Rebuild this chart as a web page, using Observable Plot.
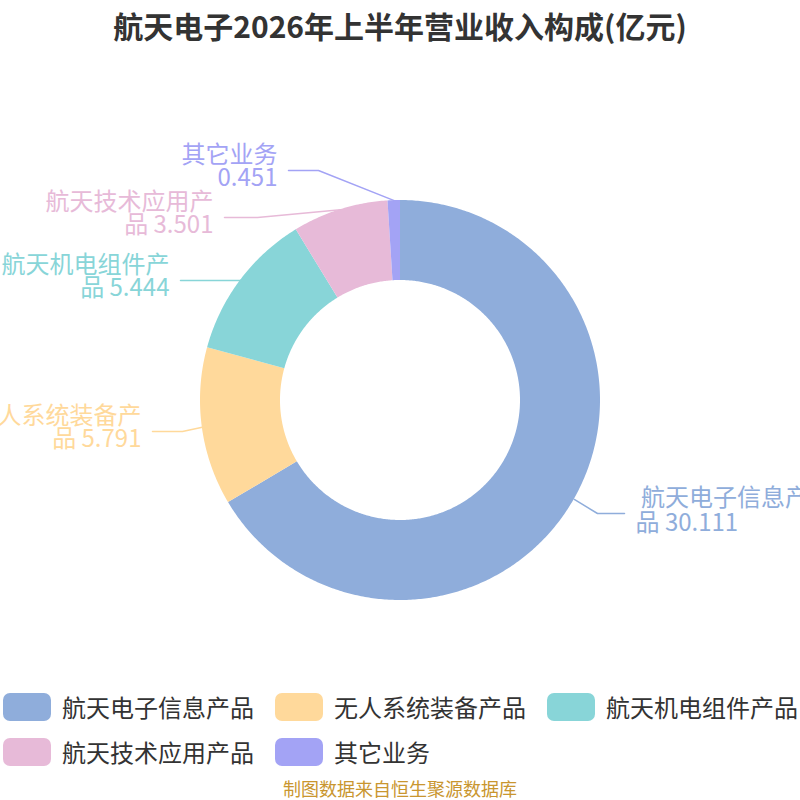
<!DOCTYPE html>
<html>
<head>
<meta charset="utf-8">
<script src="https://cdn.jsdelivr.net/npm/d3@7"></script>
<script src="https://cdn.jsdelivr.net/npm/@observablehq/plot@0.6"></script>
<style>
  html, body { margin: 0; padding: 0; background: #fff; }
  body { font-family: "Noto Sans CJK SC", "Noto Sans", sans-serif; }
  #wrap { position: relative; width: 800px; height: 800px; overflow: hidden; }
  #chart { position: absolute; left: 0; top: 0; }
  #title { position: absolute; left: 0; top: 5px; width: 800px; text-align: center;
           font-size: 30px; font-weight: bold; color: #333; line-height: 40px; }
  .leg { position: absolute; display: flex; align-items: center; height: 30px; }
  .sw { width: 48px; height: 28px; border-radius: 7px; margin-right: 11px; }
  .lt { font-size: 24px; color: #333; white-space: nowrap; line-height: 30px; }
  #caption { position: absolute; left: 0; top: 778px; width: 800px; text-align: center;
             font-size: 18px; color: #C9962F; line-height: 20px; }
</style>
</head>
<body>
<div id="wrap">
  <div id="chart"></div>
  <div id="title">航天电子2026年上半年营业收入构成(亿元)</div>
  <div id="legend"></div>
  <div id="caption">制图数据来自恒生聚源数据库</div>
</div>
<script>
// ---- data ----
const categories = ["航天电子信息产品", "无人系统装备产品", "航天机电组件产品", "航天技术应用产品", "其它业务"];
const values = [30.111, 5.791, 5.444, 3.501, 0.451];
const colors = ["#8FADDB", "#FFD99B", "#88D5D8", "#E7BAD8", "#A3A3F5"];
const labelHead = ["\u00A0航天电子信息产", "无人系统装备产", "航天机电组件产", "航天技术应用产", "其它业务"];
const labelTailPrefix = ["品 ", "品 ", "品 ", "品 ", ""];

// ---- layout (pixels relative to the donut centre) ----
const R = 200, R0 = 120;
const labelBend = [[197, 113], [-218, 31], [-160, -120], [-143, -183], [-82, -230]];
const labelEndX = [224, -248, -220, -176, -112];

const pie = d3.pie().sort(null).value(d => d.value).startAngle(0).endAngle(2 * Math.PI);
const rows = categories.map((c, i) => ({cat: c, value: values[i], i}));
const arcs = pie(rows);

// slice polygons as outer/inner arcs
const ring = [];
for (const a of arcs) {
  const n = Math.max(4, Math.ceil((a.endAngle - a.startAngle) / 0.01));
  for (let k = 0; k <= n; k++) {
    const t = a.startAngle + (a.endAngle - a.startAngle) * k / n;
    ring.push({cat: a.data.cat, ox: R * Math.sin(t), oy: -R * Math.cos(t), ix: R0 * Math.sin(t), iy: -R0 * Math.cos(t)});
  }
}

// label lines
const lines = [];
const labels = [];
arcs.forEach((a, i) => {
  const m = (a.startAngle + a.endAngle) / 2;
  const p0 = [R * Math.sin(m), -R * Math.cos(m)];
  const b = labelBend[i];
  const ex = labelEndX[i];
  lines.push({cat: a.data.cat, x: p0[0], y: p0[1]});
  lines.push({cat: a.data.cat, x: b[0], y: b[1]});
  lines.push({cat: a.data.cat, x: ex, y: b[1]});
  const right = ex > 0;
  labels.push({
    cat: a.data.cat,
    right,
    x: right ? ex + 11 : ex - 11,
    y: b[1] - 3,
    text: labelHead[i] + "\n" + labelTailPrefix[i] + values[i].toFixed(3)
  });
});

const plot = Plot.plot({
  width: 800,
  height: 800,
  margin: 0,
  x: {domain: [-400, 400], range: [0, 800], axis: null},
  y: {domain: [-400, 400], range: [0, 800], axis: null},
  color: {domain: categories, range: colors},
  style: {fontFamily: "'Noto Sans CJK SC', 'Noto Sans', sans-serif", background: "transparent"},
  marks: [
    Plot.area(ring, {x1: "ox", y1: "oy", x2: "ix", y2: "iy", z: "cat", fill: "cat", curve: "linear"}),
    Plot.line(lines, {x: "x", y: "y", z: "cat", stroke: "cat", strokeWidth: 1.5, curve: "linear"}),
    Plot.text(labels.filter(d => d.right), {x: "x", y: "y", text: "text", fill: "cat", textAnchor: "start", fontSize: 24, lineHeight: 1.04}),
    Plot.text(labels.filter(d => !d.right), {x: "x", y: "y", text: "text", fill: "cat", textAnchor: "end", fontSize: 24, lineHeight: 0.96})
  ]
});
document.getElementById("chart").appendChild(plot);

// legend
const legend = document.getElementById("legend");
const colX = [3, 275, 547];
const rowY = [692, 737];
categories.forEach((c, i) => {
  const item = document.createElement("div");
  item.className = "leg";
  item.style.left = colX[i % 3] + "px";
  item.style.top = rowY[Math.floor(i / 3)] + "px";
  const sw = document.createElement("div");
  sw.className = "sw";
  sw.style.background = colors[i];
  const t = document.createElement("span");
  t.className = "lt";
  t.textContent = c;
  item.appendChild(sw);
  item.appendChild(t);
  legend.appendChild(item);
});
</script>
</body>
</html>
